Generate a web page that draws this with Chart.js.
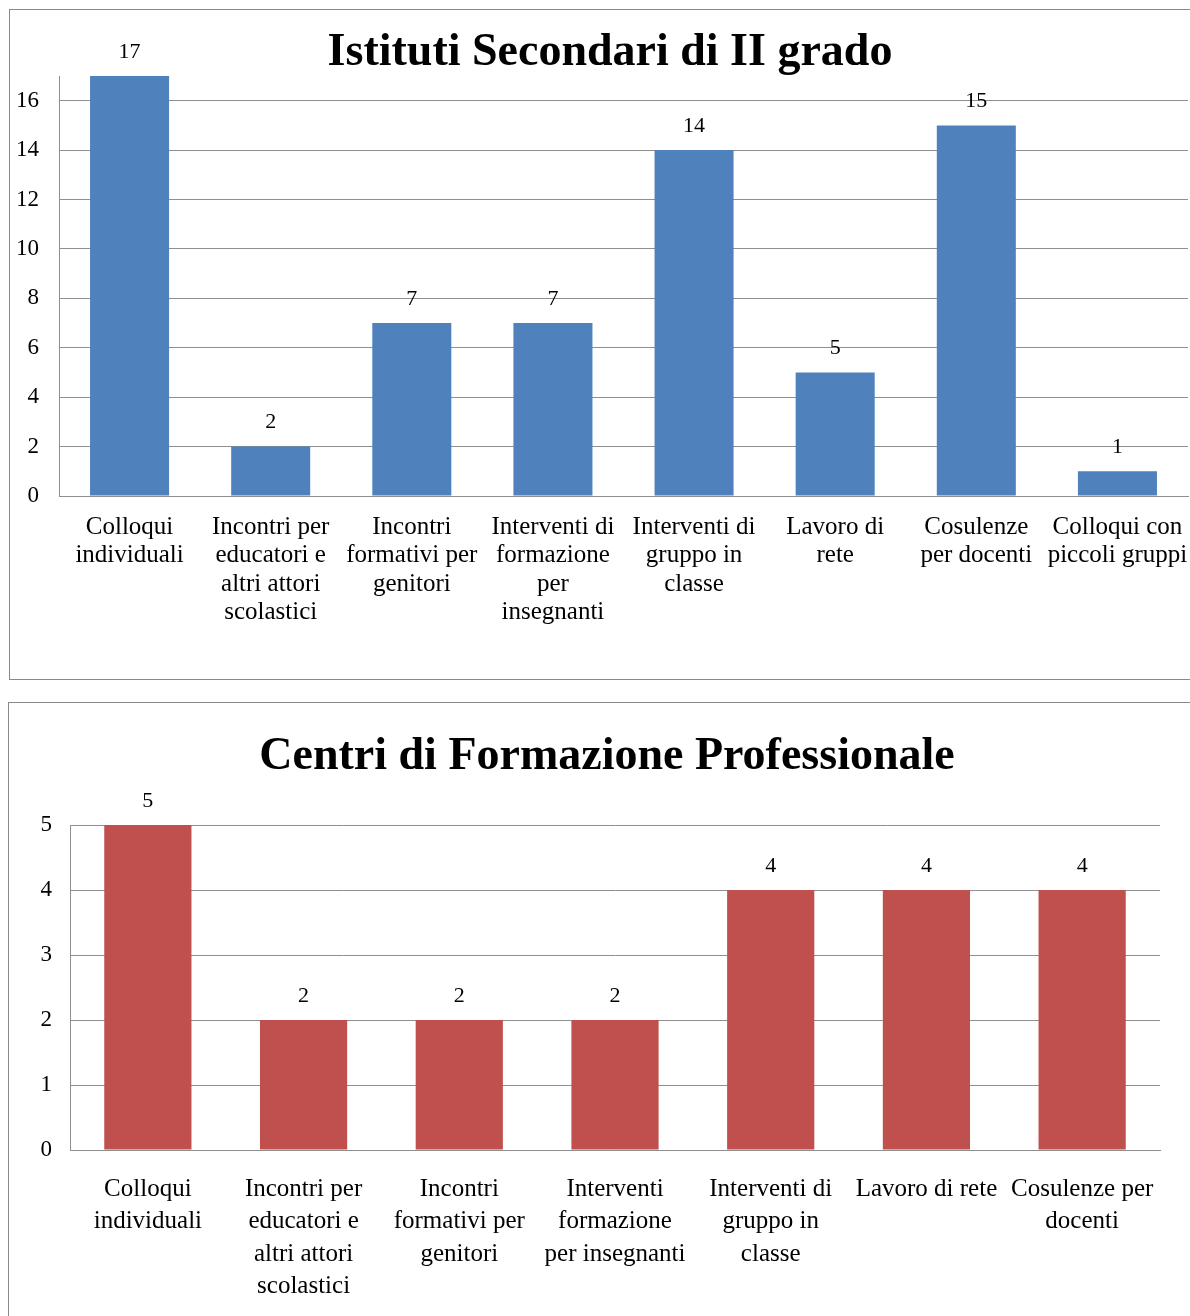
<!DOCTYPE html>
<html>
<head>
<meta charset="utf-8">
<script src="https://cdn.jsdelivr.net/npm/chart.js@4/dist/chart.umd.min.js"></script>
<style>
  html, body { margin: 0; padding: 0; background: #fff; overflow: hidden; }
  .box { position: absolute; border: 1px solid #8a8a8a; background: #fff; }
  #boxTop { left: 9px; top: 9px; width: 1200px; height: 669px; }
  #boxBottom { left: 8px; top: 702px; width: 1196px; height: 650px; }
  canvas { display: block; }
</style>
</head>
<body>
<div class="box" id="boxTop"><canvas id="chartTop" width="1200" height="669"></canvas></div>
<div class="box" id="boxBottom"><canvas id="chartBottom" width="1196" height="650"></canvas></div>
<script>
// Istituti Secondari di II grado
const topCategories = [
  ['Colloqui', 'individuali'],
  ['Incontri per', 'educatori e', 'altri attori', 'scolastici'],
  ['Incontri', 'formativi per', 'genitori'],
  ['Interventi di', 'formazione', 'per', 'insegnanti'],
  ['Interventi di', 'gruppo in', 'classe'],
  ['Lavoro di', 'rete'],
  ['Cosulenze', 'per docenti'],
  ['Colloqui con', 'piccoli gruppi']
];
const topValues = [17, 2, 7, 7, 14, 5, 15, 1];

// Centri di Formazione Professionale
const bottomCategories = [
  ['Colloqui', 'individuali'],
  ['Incontri per', 'educatori e', 'altri attori', 'scolastici'],
  ['Incontri', 'formativi per', 'genitori'],
  ['Interventi', 'formazione', 'per insegnanti'],
  ['Interventi di', 'gruppo in', 'classe'],
  ['Lavoro di rete'],
  ['Cosulenze per', 'docenti']
];
const bottomValues = [5, 2, 2, 2, 4, 4, 4];

const SERIF = '"Liberation Serif", "Times New Roman", serif';
const GRID = '#8f8f8f';

// writes the value above each bar
const valueLabels = {
  id: 'valueLabels',
  afterDatasetsDraw(chart) {
    const ctx = chart.ctx;
    ctx.save();
    ctx.font = '22px ' + SERIF;
    ctx.fillStyle = '#000';
    ctx.textAlign = 'center';
    ctx.textBaseline = 'middle';
    chart.getDatasetMeta(0).data.forEach((bar, i) => {
      ctx.fillText(String(chart.data.datasets[0].data[i]), bar.x, bar.y - 24);
    });
    ctx.restore();
  }
};

function makeChart(id, cfg) {
  return new Chart(document.getElementById(id), {
    type: 'bar',
    data: {
      labels: cfg.labels,
      datasets: [{
        data: cfg.values,
        backgroundColor: cfg.color,
        borderWidth: 0,
        categoryPercentage: 1,
        barPercentage: 0.56
      }]
    },
    options: {
      responsive: false,
      animation: false,
      devicePixelRatio: 1,
      layout: { padding: 0 },
      plugins: {
        legend: { display: false },
        tooltip: { enabled: false },
        title: {
          display: true,
          text: cfg.title,
          color: '#000',
          font: { family: SERIF, size: 46, weight: 'bold', lineHeight: 1 },
          padding: cfg.titlePad
        }
      },
      scales: {
        x: {
          grid: { display: false, drawTicks: false },
          border: { display: true, color: GRID, width: 1 },
          ticks: {
            autoSkip: false,
            maxRotation: 0,
            minRotation: 0,
            color: '#000',
            padding: cfg.xPad,
            font: { family: SERIF, size: 25, lineHeight: cfg.xLine }
          },
          afterFit: (scale) => { scale.height = cfg.xHeight; }
        },
        y: {
          min: 0,
          max: cfg.max,
          bounds: 'data',
          grid: { color: GRID, lineWidth: 1, drawTicks: false },
          border: { display: true, color: GRID, width: 1 },
          ticks: {
            stepSize: cfg.step,
            color: '#000',
            padding: cfg.yPad,
            font: { family: SERIF, size: 23 }
          },
          // keep only the regular steps (no extra tick at the axis top)
          afterBuildTicks: (scale) => {
            scale.ticks = scale.ticks.filter(t => t.value % cfg.step === 0);
          },
          afterFit: (scale) => { scale.width = cfg.yWidth; }
        },
        // empty strip on the right so the plot stops short of the frame
        spacer: {
          type: 'linear',
          position: 'right',
          grid: { display: false, drawTicks: false },
          border: { display: false },
          ticks: { display: false },
          afterFit: (scale) => { scale.width = cfg.rightGap; }
        }
      }
    },
    plugins: [valueLabels]
  });
}

makeChart('chartTop', {
  labels: topCategories,
  values: topValues,
  color: '#4f81bd',
  title: 'Istituti Secondari di II grado',
  titlePad: { top: 20, bottom: 0 },
  rightGap: 22,
  max: 17,
  step: 2,
  xPad: 17,
  xLine: 1.14,
  xHeight: 183,
  yPad: 20,
  yWidth: 49
});

makeChart('chartBottom', {
  labels: bottomCategories,
  values: bottomValues,
  color: '#c0504d',
  title: 'Centri di Formazione Professionale',
  titlePad: { top: 31, bottom: 45 },
  rightGap: 45,
  max: 5,
  step: 1,
  xPad: 23,
  xLine: 1.3,
  xHeight: 203,
  yPad: 18,
  yWidth: 61
});
</script>
</body>
</html>
